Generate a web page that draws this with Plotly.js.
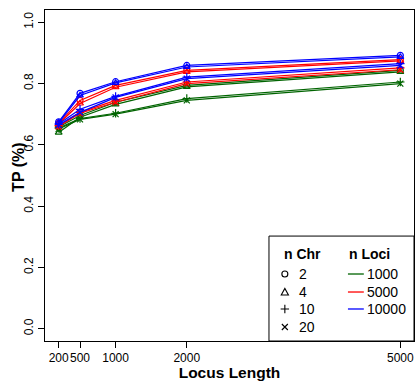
<!DOCTYPE html>
<html>
<head>
<meta charset="utf-8">
<script src="https://cdn.plot.ly/plotly-3.0.1.min.js"></script>
<style>html,body{margin:0;padding:0;background:#fff;}#chart{width:417px;height:381px;}</style>
</head>
<body>
<div id="chart"></div>
<script>
// Data
const locusLength = [200, 500, 1000, 2000, 5000];
const nChr = [2, 4, 10, 20];
const nLoci = [1000, 5000, 10000];

const tp_1000_chr2  = [0.658, 0.696, 0.739, 0.794, 0.843];
const tp_1000_chr4  = [0.640, 0.690, 0.732, 0.789, 0.838];
const tp_1000_chr10 = [0.655, 0.686, 0.703, 0.751, 0.805];
const tp_1000_chr20 = [0.652, 0.683, 0.700, 0.745, 0.800];

const tp_5000_chr2  = [0.670, 0.745, 0.794, 0.843, 0.878];
const tp_5000_chr4  = [0.668, 0.735, 0.788, 0.838, 0.874];
const tp_5000_chr10 = [0.662, 0.706, 0.745, 0.805, 0.851];
const tp_5000_chr20 = [0.660, 0.703, 0.739, 0.800, 0.845];

const tp_10000_chr2  = [0.675, 0.768, 0.806, 0.859, 0.892];
const tp_10000_chr4  = [0.672, 0.761, 0.802, 0.854, 0.887];
const tp_10000_chr10 = [0.668, 0.716, 0.758, 0.821, 0.865];
const tp_10000_chr20 = [0.665, 0.706, 0.755, 0.816, 0.859];

const yTicks = [0.0, 0.2, 0.4, 0.6, 0.8, 1.0];

const series = {
  1000:  [tp_1000_chr2, tp_1000_chr4, tp_1000_chr10, tp_1000_chr20],
  5000:  [tp_5000_chr2, tp_5000_chr4, tp_5000_chr10, tp_5000_chr20],
  10000: [tp_10000_chr2, tp_10000_chr4, tp_10000_chr10, tp_10000_chr20]
};
const lociColor = {1000: '#006400', 5000: '#FF0000', 10000: '#0000FF'};
const chrSymbol = ['circle-open', 'triangle-up-open', 'cross-thin-open', 'x-thin-open'];

const traces = [];
nLoci.forEach(function(l) {
  series[l].forEach(function(vals, i) {
    traces.push({
      x: locusLength, y: vals, type: 'scatter', mode: 'lines+markers',
      name: 'Loci ' + l + ', Chr ' + nChr[i],
      line: {color: lociColor[l], width: 1.2},
      marker: {symbol: chrSymbol[i], size: 6, color: lociColor[l], line: {color: lociColor[l], width: 1.2}},
      showlegend: false, hoverinfo: 'skip'
    });
  });
});

// legend geometry (paper coords)
const lx0 = 0.607, ly1 = 0.317;
const rowsY = [0.2024, 0.148, 0.0967, 0.0423];
const symX = 0.650, chrTextX = 0.684, segX0 = 0.821, segX1 = 0.864, lociTextX = 0.866;
const fontFam = 'Liberation Sans, Arial, sans-serif';

const shapes = [
  {type: 'rect', xref: 'paper', yref: 'paper', x0: lx0, x1: 1, y0: 0, y1: ly1,
   line: {color: '#000', width: 1}, fillcolor: 'rgba(255,255,255,1)', layer: 'above'}
];
const sym = [
  {type: 'circle', x0: -3, x1: 3, y0: -3, y1: 3},
  {type: 'path', path: 'M-3.6,-3 L3.6,-3 L0,3.6 Z'},
  {type: 'path', path: 'M-4.2,0 L4.2,0 M0,-4.2 L0,4.2'},
  {type: 'path', path: 'M-3,-3 L3,3 M-3,3 L3,-3'}
];
sym.forEach(function(s, i) {
  const sh = Object.assign({xref: 'paper', yref: 'paper', xsizemode: 'pixel', ysizemode: 'pixel',
    xanchor: symX, yanchor: rowsY[i], line: {color: '#000', width: 1.1}, layer: 'above'}, s);
  shapes.push(sh);
});
nLoci.forEach(function(l, i) {
  shapes.push({type: 'line', xref: 'paper', yref: 'paper', x0: segX0, x1: segX1, y0: rowsY[i], y1: rowsY[i],
    line: {color: lociColor[l], width: 1.3}, layer: 'above'});
});

const annotations = [
  {text: '<b>n Chr</b>', x: 0.643, y: 0.263},
  {text: '<b>n Loci</b>', x: 0.819, y: 0.263}
];
nChr.forEach(function(c, i) { annotations.push({text: String(c), x: chrTextX, y: rowsY[i]}); });
nLoci.forEach(function(l, i) { annotations.push({text: String(l), x: lociTextX, y: rowsY[i]}); });
annotations.forEach(function(a) {
  Object.assign(a, {xref: 'paper', yref: 'paper', xanchor: 'left', yanchor: 'middle', showarrow: false,
    font: {family: fontFam, size: 14, color: '#000'}});
});
// y-axis title as rotated annotation
annotations.push({text: '<b>TP (%)</b>', xref: 'paper', yref: 'paper', x: -0.0705, y: 0.526,
  xanchor: 'center', yanchor: 'middle', textangle: -90, showarrow: false,
  font: {family: fontFam, size: 16, color: '#000'}});

const layout = {
  width: 417, height: 381,
  margin: {l: 45, r: 3, t: 10, b: 40},
  paper_bgcolor: '#fff', plot_bgcolor: '#fff',
  font: {family: fontFam, color: '#000'},
  showlegend: false,
  xaxis: {
    range: [8, 5192], tickvals: locusLength, ticktext: locusLength.map(String),
    tickangle: 0, automargin: false,
    showgrid: false, zeroline: false, showline: true, mirror: true, linecolor: '#000', linewidth: 1,
    ticks: 'outside', ticklen: 6, tickcolor: '#000', tickwidth: 1,
    tickfont: {family: fontFam, size: 12, color: '#000'},
    title: {text: '<b>Locus Length</b>', font: {family: fontFam, size: 15.5, color: '#000'}, standoff: 0}
  },
  yaxis: {
    range: [-0.04, 1.04], tickvals: yTicks, ticktext: yTicks.map(function(v){return v.toFixed(1);}),
    tickangle: -90, automargin: false,
    showgrid: false, zeroline: false, showline: true, mirror: true, linecolor: '#000', linewidth: 1,
    ticks: 'outside', ticklen: 6, tickcolor: '#000', tickwidth: 1,
    tickfont: {family: fontFam, size: 12, color: '#000'}
  },
  shapes: shapes,
  annotations: annotations
};

Plotly.newPlot('chart', traces, layout, {staticPlot: true, displayModeBar: false});
</script>
</body>
</html>
